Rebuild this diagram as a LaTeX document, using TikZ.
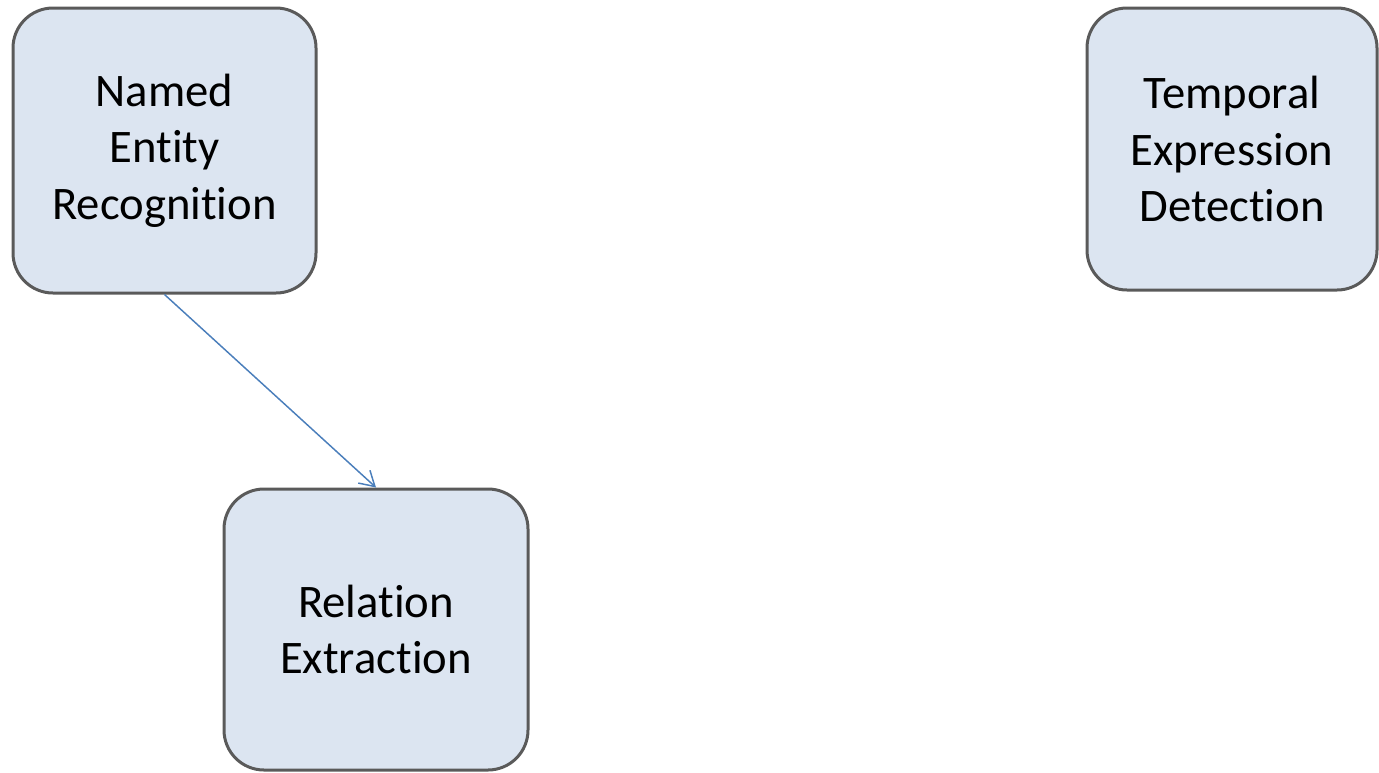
\documentclass[tikz,border=0pt]{standalone}
\usepackage{fontspec}
\setmainfont{Carlito}[Ligatures=NoCommon]
\usepackage{tikz}
\usetikzlibrary{arrows.meta}
\definecolor{boxfill}{HTML}{DCE5F1}
\definecolor{boxline}{HTML}{5A5A5A}
\definecolor{arrline}{HTML}{4A7EBB}
\newcommand{\pxu}{0.75pt}
\newcommand{\bxfont}{\fontsize{35}{42.5}\selectfont}

\begin{document}
\begin{tikzpicture}[x=\pxu,y=-\pxu,
    task/.style={draw=boxline,fill=boxfill,line width=2.25pt,
      rounded corners=30pt,align=center,font=\bxfont,inner sep=0pt},
    flow/.style={draw=arrline,line width=1.1pt,
      -{Straight Barb[length=11pt,width=13pt,line width=1.1pt]}}]
    \useasboundingbox (0,0) rectangle (1379,772);

    \node (ner) at (164.5,150.5) [task,minimum width=227.25pt,
      minimum height=213.75pt] {Named\\Entity\\Recognition};
    \node (tmp) at (1232,149) [task,minimum width=217.5pt,
      minimum height=211.5pt] {Temporal\\Expression\\Detection};
    \node (rel) at (376,629.5) [task,minimum width=228pt,
      minimum height=210.75pt] {Relation\\Extraction};

    \draw[flow] (ner.south) -- (rel.north);
  \end{tikzpicture}
\end{document}
